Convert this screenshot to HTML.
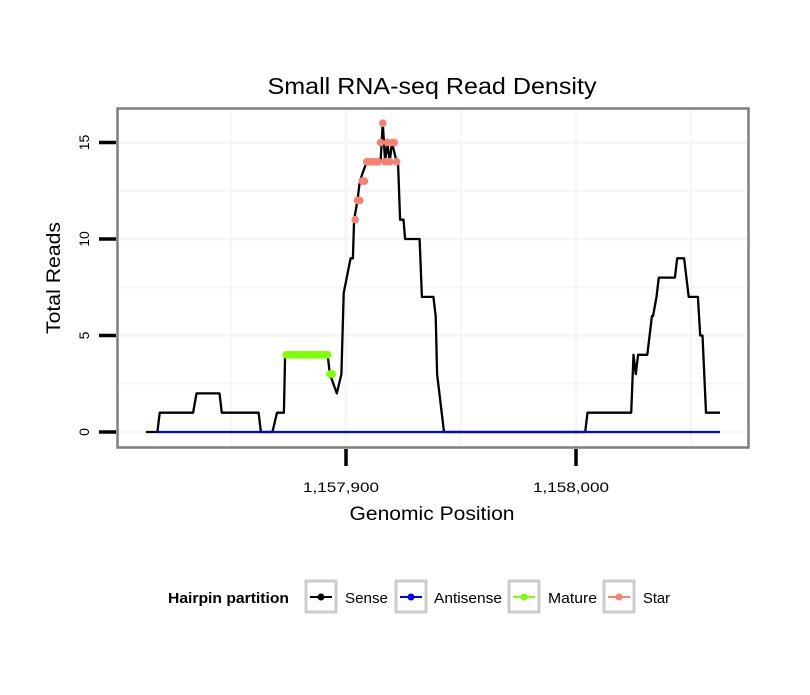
<!DOCTYPE html>
<html><head><meta charset="utf-8"><style>
body{margin:0;background:#fff;}
svg text{font-family:"Liberation Sans",sans-serif;}
</style></head><body>
<svg id="chart" width="810" height="690" xmlns="http://www.w3.org/2000/svg">
<rect width="810" height="690" fill="#fff"/>
<text x="432" y="94" font-size="23" text-anchor="middle" textLength="329" lengthAdjust="spacingAndGlyphs">Small RNA-seq Read Density</text>
<g id="grid"></g>
<g id="series"></g>
<rect x="117.5" y="108.5" width="631" height="339" fill="none" stroke="#7f7f7f" stroke-width="2.5"/>
<g id="axes"></g>
<text x="432" y="520" font-size="19" text-anchor="middle" textLength="165" lengthAdjust="spacingAndGlyphs">Genomic Position</text>
<text transform="translate(60,278) rotate(-90)" font-size="19" text-anchor="middle" textLength="112" lengthAdjust="spacingAndGlyphs">Total Reads</text>
<g>
<text x="168" y="603" font-size="15" font-weight="bold" textLength="121" lengthAdjust="spacingAndGlyphs">Hairpin partition</text>
<g><rect x="306" y="581" width="30" height="31" fill="#fff" stroke="#ccc" stroke-width="3"/><line x1="310" x2="332" y1="597" y2="597" stroke="#000" stroke-width="2"/><circle cx="321" cy="597" r="3.5" fill="#000"/><text x="345" y="603" font-size="15" textLength="43" lengthAdjust="spacingAndGlyphs">Sense</text></g>
<g><rect x="396" y="581" width="30" height="31" fill="#fff" stroke="#ccc" stroke-width="3"/><line x1="400" x2="422" y1="597" y2="597" stroke="#00f" stroke-width="2"/><circle cx="411" cy="597" r="3.5" fill="#00f"/><text x="434" y="603" font-size="15" textLength="68" lengthAdjust="spacingAndGlyphs">Antisense</text></g>
<g><rect x="509" y="581" width="30" height="31" fill="#fff" stroke="#ccc" stroke-width="3"/><line x1="513" x2="535" y1="597" y2="597" stroke="#7fff00" stroke-width="2"/><circle cx="524" cy="597" r="3.5" fill="#7fff00"/><text x="548" y="603" font-size="15" textLength="49" lengthAdjust="spacingAndGlyphs">Mature</text></g>
<g><rect x="604" y="581" width="30" height="31" fill="#fff" stroke="#ccc" stroke-width="3"/><line x1="608" x2="630" y1="597" y2="597" stroke="#fa8072" stroke-width="2"/><circle cx="619" cy="597" r="3.5" fill="#fa8072"/><text x="643" y="603" font-size="15" textLength="27" lengthAdjust="spacingAndGlyphs">Star</text></g>
</g>
</svg>
<script>
const sensePos=[1157813,1157818,1157819,1157833.5,1157835,1157845,1157846,1157862,1157863,1157868,1157870,1157873,1157873.5,1157892,1157893,1157896,1157898,1157899,1157902,1157903,1157903.5,1157905,1157906,1157909,1157915,1157916,1157917,1157918,1157919,1157920,1157922,1157922.6,1157923.5,1157925,1157925.7,1157932,1157933,1157938,1157939,1157939.6,1157942.6,1158004,1158005,1158024,1158025,1158026,1158027,1158031,1158033,1158033.5,1158035,1158036,1158043,1158044,1158047,1158049,1158053,1158054,1158055,1158056.5,1158062.6];
const senseVal=[0,0,1,1,2,2,1,1,0,0,1,1,4,4,3,2,3,7.2,9,9,11,12,13,14,14,16,14,15,14,15,14,14,11,11,10,10,7,7,6,3,0,0,1,1,4,3,4,4,6,6,7,8,8,9,9,7,7,5,5,1,1];
const antiPos=[1157818,1158062.6];
const antiVal=[0,0];
const maturePos=[1157874,1157875,1157876,1157877,1157878,1157879,1157880,1157881,1157882,1157883,1157884,1157885,1157886,1157887,1157888,1157889,1157890,1157891,1157892,1157893,1157894];
const matureVal=[4,4,4,4,4,4,4,4,4,4,4,4,4,4,4,4,4,4,4,3,3];
const starPos=[1157904,1157905,1157906,1157907,1157908,1157909,1157910,1157911,1157912,1157913,1157914,1157915,1157916,1157917,1157918,1157919,1157920,1157921,1157922];
const starVal=[11,12,12,13,13,14,14,14,14,14,14,15,16,14,15,14,15,15,14];
const xTicks=[1157900,1158000];
const xTickLabels=["1,157,900","1,158,000"];
const yTicks=[0,5,10,15];
const xGrid=[1157850,1157900,1157950,1158000,1158050];
const yGrid=[0,2.5,5,7.5,10,12.5,15];

const NS="http://www.w3.org/2000/svg";
const X=v=>346+(v-1157900)*2.3;
const Y=v=>432-v*19.3;
function mk(tag,attrs,parent){const e=document.createElementNS(NS,tag);for(const k in attrs)e.setAttribute(k,attrs[k]);parent.appendChild(e);return e;}
const grid=document.getElementById('grid'),ser=document.getElementById('series'),axes=document.getElementById('axes');
xGrid.forEach(v=>{const l=mk('line',{x1:X(v),x2:X(v),y1:109,y2:447,stroke:'#f6f6f6','stroke-width':v%100===0?3:2},grid);

});
yGrid.forEach(v=>{const l=mk('line',{x1:118,x2:748,y1:Y(v),y2:Y(v),stroke:'#f6f6f6','stroke-width':v%5===0?3:2},grid);

});
function line(pos,val,color,name){const d=pos.map((p,i)=>(i?'L':'M')+X(p).toFixed(1)+','+Y(val[i]).toFixed(1)).join('');
const e=mk('path',{d:d,fill:'none',stroke:color,'stroke-width':2.3,'stroke-linejoin':'round'},ser);

}
line(sensePos,senseVal,'#000','sense-line');
line(antiPos,antiVal,'#0000ff','antisense-line');
function pts(pos,val,color,name){pos.forEach((p,i)=>{const c=mk('circle',{cx:X(p),cy:Y(val[i]),r:3.8,fill:color},ser);

});}
pts(maturePos,matureVal,'#7fff00','mature-point');
pts(starPos,starVal,'#fa8072','star-point');
yTicks.forEach(v=>{const t=mk('line',{x1:99,x2:116,y1:Y(v),y2:Y(v),stroke:'#000','stroke-width':3.5},axes);


const tx=mk('text',{transform:`translate(89,${Y(v)}) rotate(-90)`,'font-size':14,'text-anchor':'middle'},axes);tx.textContent=v;

});
xTicks.forEach((v,i)=>{const t=mk('line',{x1:X(v),x2:X(v),y1:449,y2:466,stroke:'#000','stroke-width':3.5},axes);


const tx=mk('text',{x:X(v)-5,y:492,'font-size':14,'text-anchor':'middle',textLength:76,lengthAdjust:'spacingAndGlyphs'},axes);tx.textContent=xTickLabels[i];

});
</script>
</body></html>
